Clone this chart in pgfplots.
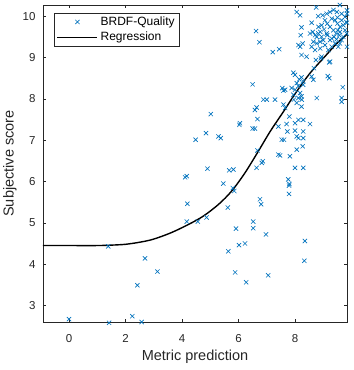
\documentclass[border=0pt]{standalone}
\usepackage{fontspec}
\setmainfont{Liberation Sans}
\usepackage{pgfplots}
\usepackage{pgfplotstable}
\pgfplotsset{compat=1.18}
\definecolor{mblue}{rgb}{0,0.447,0.741}
\definecolor{axgray}{rgb}{0.15,0.15,0.15}
\pgfplotsset{
  marklegend/.style={legend image code/.code={\path (0pt,0pt) (40pt,0pt);
    \draw[mark repeat=2,mark phase=2,##1] plot coordinates {(0pt,0pt) (20pt,0pt) (40pt,0pt)};}},
  linelegend/.style={legend image code/.code={\draw[##1] (0pt,0pt) -- (40pt,0pt);}},
}
\pgfplotstableread{
x y
0.00 2.67
1.39 4.43
1.42 2.58
2.24 2.74
2.57 2.60
2.42 3.49
2.69 4.14
3.13 3.82
4.19 5.46
4.17 5.03
4.56 5.03
4.87 5.13
5.62 5.37
5.85 5.77
5.80 5.84
5.46 5.95
5.91 4.86
5.64 4.31
6.02 4.46
6.23 4.50
6.52 5.03
6.52 4.87
6.76 5.57
6.80 5.45
6.97 4.72
5.88 3.80
6.27 3.56
7.05 3.73
7.79 5.70
7.79 5.90
8.35 4.56
8.33 4.08
5.02 7.63
4.85 7.17
4.48 7.01
5.29 7.09
5.37 7.05
6.05 7.41
6.03 7.37
4.90 6.31
4.11 6.10
4.17 6.13
5.67 6.27
5.82 6.29
6.58 7.73
6.64 7.79
7.65 7.78
7.59 7.86
8.23 7.81
6.67 7.51
6.50 7.28
6.58 7.28
7.41 7.33
7.70 7.39
7.73 7.21
7.80 7.57
8.00 7.41
8.12 7.49
8.29 7.49
8.53 7.39
8.00 7.23
8.06 7.09
8.12 7.05
8.29 7.21
8.29 7.05
8.27 6.85
8.06 6.77
7.82 6.61
7.53 7.01
7.61 7.01
7.41 6.65
7.47 6.63
6.67 6.75
6.86 6.49
6.82 6.45
6.64 6.33
8.00 6.33
8.29 6.33
7.76 6.05
7.80 5.94
8.06 7.90
6.62 9.64
6.74 9.37
7.21 9.13
7.44 9.20
6.50 8.35
7.55 8.26
7.65 8.22
7.59 8.20
7.94 8.63
8.00 8.58
8.15 8.47
8.23 8.52
8.29 8.42
7.88 8.26
8.00 8.22
8.12 8.31
8.18 8.14
8.23 8.06
6.88 7.98
7.00 7.98
7.29 7.98
7.94 8.10
8.12 8.02
8.06 8.38
8.29 8.34
8.24 7.98
7.96 7.98
8.59 8.54
8.65 8.46
8.77 8.02
9.16 8.55
9.21 8.50
9.69 8.28
9.65 8.02
9.65 7.93
9.24 8.90
9.21 8.88
8.94 9.02
8.91 8.98
8.67 8.74
8.74 8.94
8.23 9.06
8.41 9.02
8.12 9.30
8.18 9.26
8.27 9.34
8.20 9.54
8.23 9.73
8.06 10.10
8.18 10.02
8.75 10.21
8.59 9.84
8.82 10.00
9.59 10.27
9.84 10.14
9.84 10.06
9.84 9.84
9.84 9.26
8.53 9.58
8.63 9.62
8.71 9.54
8.77 9.50
8.83 9.58
8.89 9.62
8.94 9.50
8.65 9.38
8.77 9.34
8.89 9.38
9.00 9.42
8.59 9.26
8.71 9.18
8.89 9.22
9.06 9.30
9.18 9.18
9.30 9.26
9.42 9.34
9.53 9.26
9.59 9.34
9.65 9.42
9.71 9.50
9.57 9.54
9.45 9.58
9.36 9.66
9.24 9.74
9.14 9.82
9.06 9.90
8.98 10.02
9.12 10.06
9.24 10.10
9.36 10.15
9.48 10.10
9.65 10.06
9.77 9.98
9.81 9.86
9.71 9.78
9.59 9.74
9.50 9.82
9.42 9.90
9.30 9.94
9.50 9.97
9.65 9.90
9.77 9.66
9.83 9.58
9.47 9.44
9.30 9.46
9.14 9.54
9.03 9.68
8.94 9.78
8.83 9.74
9.12 9.58
9.24 9.42
9.38 9.50
9.51 9.66
9.59 9.62
}\scatterdata
\pgfplotstableread{
x y
-0.92 4.45
0.00 4.45
1.00 4.45
1.50 4.46
2.00 4.48
2.50 4.53
2.97 4.60
3.58 4.75
4.20 4.95
4.75 5.16
5.30 5.45
5.76 5.77
6.23 6.21
6.70 6.73
7.12 7.21
7.59 7.69
8.06 8.18
8.53 8.62
9.00 8.98
9.48 9.34
9.84 9.56
}\regdata
\begin{document}
\begin{tikzpicture}
\begin{axis}[
  scale only axis, width=304pt, height=317pt,
  xmin=-0.92, xmax=9.84, ymin=2.6, ymax=10.27,
  xtick={0,2,4,6,8}, ytick={3,4,5,6,7,8,9,10},
  minor tick num=0,
  tick align=inside, major tick length=3pt,
  axis line style={axgray, line width=0.5pt},
  tick style={axgray, line width=0.5pt},
  ticklabel style={font=\fontsize{11.5}{13}\selectfont, text=axgray},
  /pgf/number format/assume math mode=true,
  xticklabel style={yshift=-9pt},
  yticklabel style={xshift=-4pt},
  xlabel={Metric prediction}, ylabel={Subjective score},
  label style={font=\fontsize{14.5}{17}\selectfont, text=axgray},
  xlabel style={at={(axis description cs:0.5,-0.1104)}, anchor=center},
  ylabel style={at={(axis description cs:-0.1086,0.5)}, anchor=center},
  clip=false,
  legend style={at={(axis description cs:0,1)}, anchor=north west,
    xshift=11pt, yshift=-8pt, draw=axgray, line width=0.5pt,
    font=\fontsize{12}{14}\selectfont, inner xsep=2.5pt, inner ysep=1pt,
    row sep=0pt, nodes={inner xsep=2.5pt, inner ysep=2.6pt}},
  legend cell align=left,
]
\addplot[only marks, mark=x, mark size=3pt, mblue, line width=0.65pt, marklegend]
  table[x=x,y=y] {\scatterdata};
\addlegendentry{BRDF-Quality}
\addplot[black, line width=1.4pt, smooth, no marks, linelegend]
  table[x=x,y=y] {\regdata};
\addlegendentry{Regression}
\end{axis}
\pgfresetboundingbox
\path[use as bounding box] ([shift={(-43pt,-48pt)}]current axis.south west) rectangle ([shift={(6pt,5pt)}]current axis.north east);
\end{tikzpicture}
\end{document}
